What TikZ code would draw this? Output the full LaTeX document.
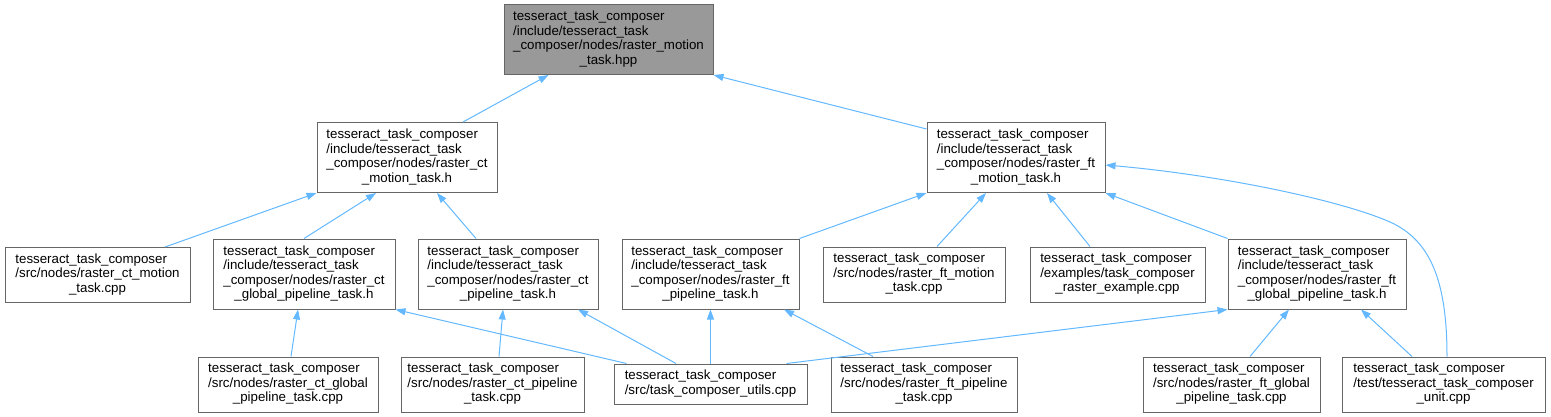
\documentclass[tikz,border=0pt]{standalone}
\usepackage{fontspec}
\setmainfont{Liberation Sans}
\usetikzlibrary{arrows.meta,calc}
\definecolor{edgeblue}{HTML}{63B8FF}
\definecolor{boxgray}{HTML}{666666}
\definecolor{focusgray}{HTML}{999999}
% lines left aligned, the last one centred
\newcommand{\flines}[2]{\begin{tabular}{@{}l@{}}#1\\\multicolumn{1}{@{}c@{}}{#2}\end{tabular}}

\begin{document}
\begin{tikzpicture}[x=1pt,y=-1pt,
		file/.style={draw=boxgray,line width=1pt,fill=white,inner sep=0pt,minimum height=55pt,font=\fontsize{13.3}{14.5}\selectfont},
		tall/.style={minimum height=70pt},
		focus/.style={fill=focusgray},
		dep/.style={color=edgeblue,line width=1pt,-{Triangle[length=10pt,width=7pt]}},
		]
		\useasboundingbox (0,0) rectangle (1551,417);

		\node[file,tall,focus,minimum width=209pt](root) at (608.5,39.5) {\flines{tesseract\_task\_composer\\/include/tesseract\_task\\\_composer/nodes/raster\_motion}{\_task.hpp}};

		\node[file,tall,minimum width=180pt](ctm) at (407,157.5) {\flines{tesseract\_task\_composer\\/include/tesseract\_task\\\_composer/nodes/raster\_ct}{\_motion\_task.h}};
		\node[file,tall,minimum width=178pt](ftm) at (1016,157.5) {\flines{tesseract\_task\_composer\\/include/tesseract\_task\\\_composer/nodes/raster\_ft}{\_motion\_task.h}};

		\node[file,minimum width=185pt](ctmcpp) at (97.5,275) {\flines{tesseract\_task\_composer\\/src/nodes/raster\_ct\_motion}{\_task.cpp}};
		\node[file,tall,minimum width=182pt](ctgh) at (304,274) {\flines{tesseract\_task\_composer\\/include/tesseract\_task\\\_composer/nodes/raster\_ct}{\_global\_pipeline\_task.h}};
		\node[file,tall,minimum width=180pt](ctph) at (508,274) {\flines{tesseract\_task\_composer\\/include/tesseract\_task\\\_composer/nodes/raster\_ct}{\_pipeline\_task.h}};
		\node[file,tall,minimum width=177pt](ftph) at (710.5,274) {\flines{tesseract\_task\_composer\\/include/tesseract\_task\\\_composer/nodes/raster\_ft}{\_pipeline\_task.h}};
		\node[file,minimum width=182pt](ftmcpp) at (914,274.5) {\flines{tesseract\_task\_composer\\/src/nodes/raster\_ft\_motion}{\_task.cpp}};
		\node[file,minimum width=175pt](example) at (1117.5,274.5) {\flines{tesseract\_task\_composer\\/examples/task\_composer}{\_raster\_example.cpp}};
		\node[file,tall,minimum width=178pt](ftgh) at (1317,274) {\flines{tesseract\_task\_composer\\/include/tesseract\_task\\\_composer/nodes/raster\_ft}{\_global\_pipeline\_task.h}};

		\node[file,minimum width=180pt](ctgcpp) at (288,384.5) {\flines{tesseract\_task\_composer\\/src/nodes/raster\_ct\_global}{\_pipeline\_task.cpp}};
		\node[file,minimum width=183pt](ctpcpp) at (492.5,384.5) {\flines{tesseract\_task\_composer\\/src/nodes/raster\_ct\_pipeline}{\_task.cpp}};
		\node[file,minimum width=193pt,minimum height=40pt](utils) at (710.5,384) {\flines{tesseract\_task\_composer}{/src/task\_composer\_utils.cpp}};
		\node[file,minimum width=186pt](ftpcpp) at (924,384.5) {\flines{tesseract\_task\_composer\\/src/nodes/raster\_ft\_pipeline}{\_task.cpp}};
		\node[file,minimum width=177pt](ftgcpp) at (1231.5,384.5) {\flines{tesseract\_task\_composer\\/src/nodes/raster\_ft\_global}{\_pipeline\_task.cpp}};
		\node[file,minimum width=203pt](unit) at (1443.5,384.5) {\flines{tesseract\_task\_composer\\/test/tesseract\_task\_composer}{\_unit.cpp}};

		\draw[dep] ([xshift=56]ctm.north) -- ([xshift=-60]root.south);
		\draw[dep] ([yshift=-7]ftm.north west) -- (root.south east);
		\draw[dep] ([xshift=67.5]ctmcpp.north) -- (ctm.south west);
		\draw[dep] (ctgh.north) -- ([xshift=-31]ctm.south);
		\draw[dep] ([xshift=-32]ctph.north) -- ([xshift=30]ctm.south);
		\draw[dep] (ftph.north east) -- (ftm.south west);
		\draw[dep] ([xshift=23]ftmcpp.north) -- ([xshift=-30]ftm.south);
		\draw[dep] ([xshift=-27.5]example.north) -- ([xshift=31]ftm.south);
		\draw[dep] (ftgh.north west) -- (ftm.south east);
		\draw[dep] ([xshift=3.5]unit.north) .. controls (1447,280) and (1430,240) .. (1390,222)
			.. controls (1340,200) and (1220,175) .. ([yshift=-7.5]ftm.east);
		\draw[dep] ([xshift=3]ctgcpp.north) -- ([xshift=-6]ctgh.south);
		\draw[dep] ([xshift=13]utils.north west) -- (ctgh.south east);
		\draw[dep] ([xshift=6.5]ctpcpp.north) -- ([xshift=-5]ctph.south);
		\draw[dep] ([xshift=-34.5]utils.north) -- ([xshift=70]ctph.south);
		\draw[dep] (utils) -- (ftph);
		\draw[dep] ([xshift=-51]ftpcpp.north) -- ([xshift=73.5]ftph.south);
		\draw[dep] ([xshift=-21]utils.north east) -- (ftgh.south west);
		\draw[dep] ([xshift=18.5]ftgcpp.north) -- ([xshift=-28]ftgh.south);
		\draw[dep] ([xshift=-31.5]unit.north) -- ([xshift=44]ftgh.south);
	\end{tikzpicture}
\end{document}
